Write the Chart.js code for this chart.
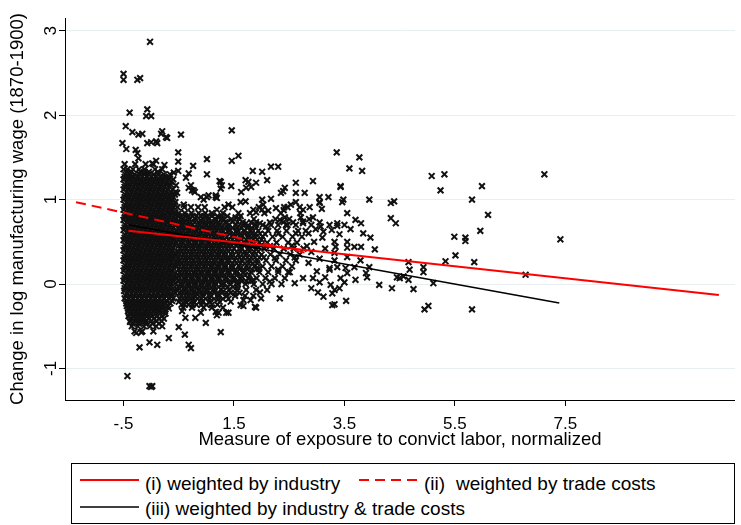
<!DOCTYPE html>
<html>
<head>
<meta charset="utf-8">
<script src="https://cdn.jsdelivr.net/npm/chart.js@4.4.1/dist/chart.umd.min.js"></script>
<style>
  body { margin: 0; background: #fff; }
  #wrap { position: relative; width: 741px; height: 525px; overflow: hidden; }
  #plot { position: absolute; left: 0; top: 0; }
  #key { position: absolute; left: 0; top: 460px; }
  #key text { font-family: "Liberation Sans", Arial, sans-serif; font-size: 19px; fill: #000; }
</style>
</head>
<body>
<div id="wrap">
  <canvas id="plot" width="741" height="460"></canvas>
  <svg id="key" width="741" height="65">
    <rect x="71.5" y="3.5" width="663" height="60" fill="none" stroke="#000" stroke-width="1"/>
    <line x1="80" y1="20" x2="139" y2="20" stroke="#ff0000" stroke-width="2"/>
    <text x="145" y="23" dominant-baseline="central">(i) weighted by industry</text>
    <line x1="359" y1="20" x2="418" y2="20" stroke="#ff0000" stroke-width="2" stroke-dasharray="10 6"/>
    <text x="424" y="23" dominant-baseline="central">(ii)</text>
    <text x="456" y="23" dominant-baseline="central">weighted by trade costs</text>
    <line x1="80" y1="47" x2="139" y2="47" stroke="#000" stroke-width="1.6"/>
    <text x="145" y="48" dominant-baseline="central">(iii) weighted by industry &amp; trade costs</text>
  </svg>
</div>
<script>
"use strict";

// axis texts and ticks
const xTitle = "Measure of exposure to convict labor, normalized";
const yTitle = "Change in log manufacturing wage (1870-1900)";
const xTickVals = [-0.5, 1.5, 3.5, 5.5, 7.5];
const xTickText = ["-.5", "1.5", "3.5", "5.5", "7.5"];
const yTickVals = [-1, 0, 1, 2, 3];
const yTickText = ["-1", "0", "1", "2", "3"];

// fitted lines (endpoints)
const fitIndustryX = [-0.41, 10.28];
const fitIndustryY = [0.63, -0.13];
const fitTradeX = [-1.36, 2.8];
const fitTradeY = [0.97, 0.37];
const fitBothX = [-0.4, 7.39];
const fitBothY = [0.70, -0.225];

// dense block near the minimum exposure, read row by row
const coreRowY = [1.42, 1.36, 1.30, 1.24, 1.18, 1.12, 1.06, 1.00, 0.94, 0.88, 0.82, 0.76, 0.70, 0.64,
  0.58, 0.52, 0.46, 0.40, 0.34, 0.28, 0.22, 0.16, 0.10, 0.04, -0.02, -0.08, -0.14, -0.20, -0.26,
  -0.32, -0.38, -0.44, -0.50, -0.56];
const coreRowX = [
  [-0.48, -0.29, -0.1, 0.04],
  [-0.5, -0.43, -0.33, -0.22, -0.12, 0.07, 0.2],
  [-0.47, -0.38, -0.3, -0.21, -0.12, -0.04, 0.05, 0.13, 0.23, 0.34],
  [-0.5, -0.42, -0.34, -0.26, -0.18, -0.1, -0.02, 0.06, 0.14, 0.22, 0.31, 0.4],
  [-0.47, -0.38, -0.3, -0.22, -0.14, -0.06, 0.02, 0.1, 0.18, 0.26, 0.35],
  [-0.5, -0.42, -0.34, -0.26, -0.18, -0.1, -0.02, 0.06, 0.14, 0.22, 0.3, 0.39],
  [-0.47, -0.38, -0.3, -0.22, -0.14, -0.06, 0.02, 0.1, 0.18, 0.26, 0.34, 0.43],
  [-0.5, -0.42, -0.34, -0.26, -0.18, -0.1, -0.02, 0.06, 0.14, 0.22, 0.3, 0.38],
  [-0.47, -0.39, -0.3, -0.22, -0.14, -0.06, 0.02, 0.1, 0.18, 0.26, 0.34, 0.42],
  [-0.5, -0.42, -0.34, -0.26, -0.18, -0.1, -0.02, 0.06, 0.14, 0.22, 0.3, 0.38],
  [-0.47, -0.38, -0.3, -0.22, -0.14, -0.06, 0.02, 0.1, 0.18, 0.26, 0.35, 0.44],
  [-0.5, -0.42, -0.34, -0.26, -0.18, -0.1, -0.02, 0.06, 0.14, 0.22, 0.3, 0.39],
  [-0.47, -0.38, -0.3, -0.22, -0.14, -0.06, 0.02, 0.1, 0.18, 0.26, 0.34, 0.43],
  [-0.5, -0.42, -0.34, -0.26, -0.18, -0.1, -0.02, 0.06, 0.14, 0.22, 0.3, 0.38],
  [-0.47, -0.38, -0.3, -0.22, -0.14, -0.06, 0.02, 0.1, 0.18, 0.26, 0.34, 0.42],
  [-0.5, -0.42, -0.34, -0.26, -0.18, -0.1, -0.02, 0.06, 0.14, 0.22, 0.3, 0.39],
  [-0.47, -0.38, -0.3, -0.22, -0.14, -0.06, 0.02, 0.1, 0.18, 0.26, 0.34, 0.43],
  [-0.5, -0.42, -0.34, -0.26, -0.18, -0.1, -0.02, 0.06, 0.14, 0.22, 0.3, 0.38],
  [-0.47, -0.38, -0.3, -0.22, -0.14, -0.06, 0.02, 0.1, 0.18, 0.26, 0.34, 0.42],
  [-0.5, -0.42, -0.34, -0.26, -0.18, -0.1, -0.02, 0.06, 0.14, 0.22, 0.3, 0.39],
  [-0.47, -0.38, -0.3, -0.22, -0.14, -0.06, 0.02, 0.1, 0.18, 0.26, 0.34, 0.43],
  [-0.5, -0.42, -0.34, -0.26, -0.18, -0.1, -0.02, 0.06, 0.14, 0.22, 0.3, 0.38],
  [-0.47, -0.38, -0.3, -0.22, -0.14, -0.06, 0.02, 0.1, 0.18, 0.26, 0.34, 0.42],
  [-0.5, -0.42, -0.34, -0.26, -0.18, -0.1, -0.02, 0.06, 0.14, 0.22, 0.3, 0.39],
  [-0.47, -0.38, -0.3, -0.22, -0.14, -0.06, 0.02, 0.1, 0.18, 0.26, 0.35],
  [-0.49, -0.41, -0.33, -0.25, -0.17, -0.09, -0.01, 0.07, 0.15, 0.23, 0.31, 0.41],
  [-0.46, -0.38, -0.3, -0.22, -0.14, -0.06, 0.02, 0.1, 0.18, 0.27, 0.36],
  [-0.45, -0.37, -0.29, -0.21, -0.13, -0.05, 0.03, 0.11, 0.19, 0.28, 0.38],
  [-0.44, -0.36, -0.28, -0.2, -0.12, -0.04, 0.04, 0.12, 0.21, 0.3],
  [-0.42, -0.34, -0.26, -0.18, -0.1, -0.02, 0.06, 0.15, 0.25],
  [-0.41, -0.32, -0.24, -0.16, -0.07, 0.02, 0.11, 0.2],
  [-0.38, -0.29, -0.2, -0.1, 0.0, 0.1, 0.19],
  [-0.35, -0.24, -0.13, -0.02, 0.09, 0.2],
  [-0.3, -0.16, 0.04]
];

// the same block, rows lying between the rows above
const rowE = [-0.48, -0.4, -0.32, -0.24, -0.16, -0.08, 0.0, 0.08, 0.16, 0.24, 0.32, 0.4];
const rowF = [-0.44, -0.36, -0.28, -0.2, -0.12, -0.04, 0.04, 0.12, 0.2, 0.28, 0.36, 0.44];
const coreFillY = [1.33, 1.27, 1.21, 1.15, 1.09, 1.03, 0.97, 0.91, 0.85, 0.79, 0.73, 0.67, 0.61, 0.55,
  0.49, 0.43, 0.37, 0.31, 0.25, 0.19, 0.13, 0.07, 0.01, -0.05, -0.11, -0.17, -0.23, -0.29, -0.35,
  -0.41, -0.47];
const coreFillX = [
  [-0.44, -0.36, -0.2, -0.12, -0.04, 0.12],
  [-0.48, -0.4, -0.32, -0.24, -0.16, -0.08, 0.0, 0.08, 0.16, 0.24, 0.32],
  [-0.44, -0.36, -0.28, -0.2, -0.12, -0.04, 0.04, 0.12, 0.2, 0.28, 0.37],
  [-0.48, -0.4, -0.32, -0.24, -0.16, -0.08, 0.0, 0.08, 0.16, 0.24, 0.33],
  rowF, rowE, rowF, rowE, rowF, rowE, rowF, rowE, rowF, rowE, rowF, rowE,
  rowF, rowE, rowF, rowE, rowF, rowE, rowF, rowE, rowF, rowE,
  [-0.45, -0.37, -0.29, -0.21, -0.13, -0.05, 0.03, 0.11, 0.19, 0.27, 0.35],
  [-0.42, -0.34, -0.26, -0.18, -0.1, -0.02, 0.06, 0.14, 0.22, 0.32],
  [-0.4, -0.32, -0.24, -0.16, -0.08, 0.0, 0.08, 0.16, 0.26],
  [-0.37, -0.28, -0.2, -0.12, -0.04, 0.05, 0.14, 0.23],
  [-0.33, -0.22, -0.1, 0.02, 0.14]
];

// medium density band to the right of the block
const midRowY = [0.91, 0.84, 0.77, 0.70, 0.63, 0.56, 0.49, 0.42, 0.35, 0.28, 0.21, 0.14, 0.07, 0.0,
  -0.07, -0.14, -0.21, -0.28, -0.40];
const midRowX = [
  [0.48, 0.6, 0.72, 0.85, 0.97, 1.33, 1.95, 2.47],
  [0.5, 0.61, 0.73, 0.86, 0.98, 1.1, 1.3, 1.58, 1.79, 2.05, 2.35, 2.7],
  [0.46, 0.57, 0.69, 0.8, 0.93, 1.04, 1.16, 1.28, 1.45, 1.6, 1.86, 2.25, 2.5, 2.86],
  [0.52, 0.64, 0.75, 0.88, 1.0, 1.12, 1.24, 1.41, 1.66, 1.89, 2.02, 2.3, 2.47, 2.62, 2.9],
  [0.47, 0.58, 0.7, 0.82, 0.94, 1.06, 1.18, 1.3, 1.42, 1.55, 1.68, 1.8, 1.94, 2.12, 2.28, 2.45, 2.66, 2.8],
  [0.51, 0.63, 0.76, 0.88, 1.0, 1.13, 1.25, 1.37, 1.5, 1.62, 1.75, 1.88, 2.02, 2.2, 2.38, 2.56, 2.73],
  [0.46, 0.57, 0.69, 0.81, 0.93, 1.05, 1.18, 1.3, 1.43, 1.56, 1.69, 1.82, 1.96, 2.1, 2.27, 2.48, 2.64],
  [0.52, 0.64, 0.76, 0.88, 1.0, 1.12, 1.24, 1.37, 1.5, 1.63, 1.76, 1.9, 2.05, 2.22, 2.4, 2.58, 2.76],
  [0.47, 0.59, 0.71, 0.83, 0.95, 1.07, 1.2, 1.32, 1.45, 1.58, 1.71, 1.85, 2.0, 2.16, 2.33, 2.52, 2.69],
  [0.52, 0.64, 0.76, 0.88, 1.0, 1.13, 1.26, 1.38, 1.51, 1.64, 1.78, 1.92, 2.08, 2.26, 2.44, 2.62],
  [0.47, 0.59, 0.71, 0.83, 0.95, 1.08, 1.2, 1.33, 1.46, 1.59, 1.73, 1.87, 2.02, 2.18, 2.38, 2.55],
  [0.52, 0.64, 0.77, 0.89, 1.02, 1.15, 1.28, 1.41, 1.54, 1.67, 1.81, 1.96, 2.12, 2.3, 2.48],
  [0.47, 0.6, 0.72, 0.85, 0.97, 1.1, 1.23, 1.36, 1.49, 1.62, 1.76, 1.91, 2.07, 2.24, 2.42],
  [0.53, 0.66, 0.78, 0.91, 1.04, 1.17, 1.3, 1.43, 1.57, 1.71, 1.86, 2.02, 2.18, 2.36],
  [0.48, 0.61, 0.74, 0.87, 1.0, 1.13, 1.27, 1.41, 1.56, 1.72, 1.9, 2.1],
  [0.54, 0.67, 0.8, 0.94, 1.08, 1.22, 1.37, 1.52, 1.7, 1.85],
  [0.5, 0.63, 0.77, 0.92, 1.07, 1.24, 1.44],
  [0.58, 0.74, 0.95, 1.1, 1.3],
  [0.62, 0.8]
];

// in-between rows of the band, densest part next to the block
const midFillY = [0.805, 0.735, 0.665, 0.595, 0.525, 0.455, 0.385, 0.315, 0.245, 0.175, 0.105, 0.035,
  -0.035, -0.105, -0.175, -0.245];
const midFillX = [
  [0.5, 0.62, 0.75, 0.9, 1.02, 1.2, 1.38, 1.62],
  [0.5, 0.6, 0.72, 0.86, 0.98, 1.1, 1.22, 1.47, 1.66, 1.9],
  [0.55, 0.67, 0.79, 0.91, 1.03, 1.15, 1.27, 1.4, 1.55, 1.74, 1.9],
  [0.5, 0.62, 0.74, 0.86, 0.98, 1.1, 1.22, 1.34, 1.5, 1.62, 1.76, 1.88, 2.06],
  [0.55, 0.67, 0.79, 0.91, 1.03, 1.15, 1.27, 1.4, 1.55, 1.72, 1.85, 2.0],
  [0.5, 0.62, 0.74, 0.86, 0.98, 1.1, 1.22, 1.34, 1.46, 1.62, 1.76, 1.9, 2.08],
  [0.55, 0.67, 0.79, 0.91, 1.03, 1.15, 1.27, 1.4, 1.55, 1.7, 1.86],
  [0.5, 0.62, 0.74, 0.86, 0.98, 1.1, 1.22, 1.34, 1.46, 1.6, 1.74, 1.88, 2.04],
  [0.55, 0.67, 0.79, 0.91, 1.03, 1.15, 1.27, 1.4, 1.55, 1.7, 1.84],
  [0.5, 0.62, 0.74, 0.86, 0.98, 1.1, 1.22, 1.34, 1.46, 1.6, 1.74, 1.9],
  [0.55, 0.67, 0.79, 0.91, 1.03, 1.15, 1.27, 1.4, 1.55, 1.7],
  [0.5, 0.62, 0.74, 0.86, 0.98, 1.1, 1.22, 1.36, 1.5, 1.64, 1.8],
  [0.55, 0.67, 0.79, 0.91, 1.03, 1.15, 1.3, 1.48],
  [0.52, 0.64, 0.76, 0.88, 1.0, 1.14, 1.28, 1.44, 1.6],
  [0.58, 0.7, 0.84, 0.99, 1.14, 1.3],
  [0.55, 0.68, 0.82, 1.0, 1.2]
];
// a second set on the same rows, shifted sideways
const midFill2X = [
  [0.56, 0.68, 0.82, 0.96, 1.1, 1.28],
  [0.55, 0.66, 0.79, 0.92, 1.04, 1.16, 1.34, 1.56],
  [0.49, 0.61, 0.73, 0.85, 0.97, 1.09, 1.21, 1.33, 1.47, 1.64, 1.82],
  [0.56, 0.68, 0.8, 0.92, 1.04, 1.16, 1.28, 1.42, 1.56, 1.69, 1.82, 1.97],
  [0.49, 0.61, 0.73, 0.85, 0.97, 1.09, 1.21, 1.33, 1.47, 1.63, 1.78, 1.92],
  [0.56, 0.68, 0.8, 0.92, 1.04, 1.16, 1.28, 1.4, 1.54, 1.69, 1.83, 1.99],
  [0.49, 0.61, 0.73, 0.85, 0.97, 1.09, 1.21, 1.33, 1.47, 1.62, 1.78, 1.94],
  [0.56, 0.68, 0.8, 0.92, 1.04, 1.16, 1.28, 1.4, 1.53, 1.67, 1.81, 1.96],
  [0.49, 0.61, 0.73, 0.85, 0.97, 1.09, 1.21, 1.33, 1.47, 1.62, 1.77, 1.92],
  [0.56, 0.68, 0.8, 0.92, 1.04, 1.16, 1.28, 1.4, 1.53, 1.67, 1.82],
  [0.49, 0.61, 0.73, 0.85, 0.97, 1.09, 1.21, 1.33, 1.47, 1.62, 1.78],
  [0.56, 0.68, 0.8, 0.92, 1.04, 1.16, 1.29, 1.43, 1.57, 1.72],
  [0.49, 0.61, 0.73, 0.85, 0.97, 1.09, 1.22, 1.39, 1.56],
  [0.58, 0.7, 0.82, 0.94, 1.07, 1.21, 1.36, 1.52],
  [0.52, 0.64, 0.77, 0.91, 1.06, 1.22, 1.4],
  [0.61, 0.75, 0.91, 1.1]
];

// single in-between points of the band, further right
const fillX = [2.12, 2.4, 2.15, 2.4, 2.75, 2.3, 2.62, 2.15, 2.55, 2.24, 2.6, 1.95, 2.3, 1.84, 2.15, 1.97];
const fillY = [0.87, 0.875, 0.73, 0.735, 0.74, 0.595, 0.6, 0.45, 0.455, 0.31, 0.315, 0.18, 0.17, 0.04, 0.03, -0.1];

// scattered points read one by one
const looseX = [
  -0.02, -0.5, -0.5, -0.25, -0.2, -0.39, -0.07, -0.09, 0.0, -0.46, -0.34, -0.23, -0.16, 0.2, 0.18,
  0.27, 0.29, 0.54, -0.52, -0.45, -0.07, 0.0, 0.09, 0.11, -0.28, -0.25, -0.23, 0.49, 0.49, 0.49,
  0.76, 1.01, 1.01, 0.09, 0.02, 0.24, 0.41, 0.68, 0.74, 0.79, 0.9, 0.95, 1.01, 1.17, 1.19, 1.26,
  1.28, 0.47, 0.63, 0.68, 0.72, 0.77, 1.04, 0.59, 0.45,
  1.46, 1.46, 1.58, 1.84, 2.01, 2.17, 2.3, 3.36,
  1.24, 1.26, 1.45, 1.71, 1.76, 1.72, 1.81, 1.63, 1.9, 2.1, 2.39, 2.42, 2.35, 2.62, 2.62, 2.78,
  2.93, 3.05, 3.05, 3.21, 3.43, 3.46, 1.17, 1.19, 1.4, 1.47, 1.62, 1.71, 1.85, 1.9, 2.01, 2.03,
  2.01, 2.17, 2.26, 2.41, 2.53, 2.62, 2.69, 2.75, 2.87, 3.05, 3.09,
  1.22, 1.31, 1.37, 1.53, 1.54, 1.72, 1.76, 1.81, 1.97, 2.08, 2.17, 2.33, 2.42, 2.44, 2.57, 2.71,
  2.75, 2.93, 3.05, 3.07, 3.23, 3.37,
  2.85, 2.95, 3.1, 2.9, 3.05, 3.15, 2.85, 3.0, 3.15, 2.82, 2.98, 3.12, 2.9, 3.02,
  3.43, 3.23, 2.93, 3.05, 2.75, 2.6, 2.51, 2.33, 3.12, 3.28, 3.32, 3.53, 3.25, 3.32, 3.41, 3.28,
  1.9, 1.99, 1.62, 1.67, 1.8, 1.19, 1.36, 1.26, 0.5, 0.61, 0.68, 0.72, 0.99, 0.9, 1.17, 1.4, 1.67,
  1.88, 0.72, -0.38, -0.27, -0.18, -0.21, -0.03, 0.11, 0.32, 0.56, 1.22,
  -0.43, -0.03, 0.02, 0.0,
  3.77, 3.59, 3.82, 3.43, 3.48, 3.95, 4.34, 4.4, 4.34, 4.43, 3.55, 3.7, 3.8, 3.37, 3.5, 3.61, 3.84,
  3.97, 3.41, 3.55, 3.55, 3.68, 3.8, 4.05, 3.27, 3.32, 3.34, 3.32, 3.55, 3.79, 3.95, 3.89, 3.68,
  3.52, 3.55, 3.32, 3.37, 3.23, 3.7, 4.13, 4.36, 4.5, 4.66, 4.66, 4.68, 4.75, 4.93, 4.93, 5.11,
  4.95, 5.02, 3.5, 4.45, 4.57, 3.91,
  5.08, 5.31, 5.24, 5.99, 7.12, 5.81, 6.1, 5.96, 5.49, 5.69, 5.69, 7.41, 5.33, 5.51, 5.85, 5.81, 6.78
];
const looseY = [
  2.87, 2.49, 2.42, 2.42, 2.44, 2.03, 2.07, 1.99, 1.99, 1.87, 1.8, 1.77, 1.78, 1.81, 1.78,
  1.74, 1.73, 1.77, 1.67, 1.6, 1.67, 1.68, 1.69, 1.67, 1.59, 1.55, 1.49, 1.56, 1.45, 1.34,
  1.4, 1.48, 1.3, 1.46, 1.43, 1.41, 1.32, 1.14, 1.11, 1.09, 1.03, 1.0, 1.03, 1.05, 1.02, 1.21,
  1.17, 1.08, 1.26, 1.31, 1.17, 1.11, 1.05, 0.94, 1.17,
  1.82, 1.46, 1.52, 1.34, 1.33, 1.39, 1.39, 1.56,
  1.22, 1.13, 1.16, 1.23, 1.21, 1.14, 1.15, 1.09, 1.2, 1.23, 1.1, 1.14, 1.08, 1.2, 1.08, 1.08,
  1.22, 1.03, 0.97, 1.03, 1.15, 0.97, 1.03, 0.88, 0.94, 0.91, 0.97, 0.98, 0.88, 0.85, 1.0, 0.94,
  0.88, 1.01, 0.9, 0.91, 0.94, 0.97, 0.91, 0.88, 0.91, 0.96, 0.89,
  0.79, 0.76, 0.73, 0.79, 0.7, 0.72, 0.68, 0.73, 0.72, 0.68, 0.7, 0.76, 0.79, 0.7, 0.73, 0.79,
  0.72, 0.79, 0.73, 0.68, 0.7, 0.72,
  0.6, 0.5, 0.55, 0.38, 0.3, 0.42, 0.25, 0.15, 0.08, 0.45, 0.65, 0.62, -0.05, -0.1,
  0.07, 0.19, 0.07, 0.02, 0.07, 0.01, 0.14, -0.17, -0.15, -0.11, -0.24, -0.2, -0.01, -0.07, -0.05, -0.25,
  -0.28, -0.17, -0.25, -0.19, -0.19, -0.37, -0.34, -0.57, -0.51, -0.6, -0.72, -0.76, -0.46, -0.34, -0.33, -0.34, -0.26,
  -0.27, -0.17, -0.45, -0.58, -0.57, -0.75, -0.69, -0.72, -0.64, -0.32, -0.34,
  -1.09, -1.21, -1.21, -1.22,
  1.5, 1.37, 1.34, 1.16, 1.0, 1.0, 0.96, 0.98, 0.78, 0.72, 0.84, 0.76, 0.72, 0.69, 0.7, 0.65, 0.6,
  0.55, 0.59, 0.5, 0.43, 0.44, 0.44, 0.41, 0.64, 0.5, 0.44, 0.37, 0.32, 0.28, 0.2, 0.13, 0.2,
  0.19, 0.13, 0.28, 0.2, 0.17, 0.05, -0.01, -0.05, 0.07, 0.05, 0.26, 0.17, -0.06, 0.2, 0.14, 0.01,
  -0.3, -0.26, 0.02, 0.08, 0.09, 0.08,
  1.28, 1.3, 1.11, 1.16, 1.3, 1.0, 0.82, 0.63, 0.56, 0.55, 0.51, 0.53, 0.27, 0.34, 0.26, -0.3, 0.11
];

// assemble scatter points
const wagePoints = [];
const addRows = (ys, xs) => ys.forEach((y, i) => xs[i].forEach(x => wagePoints.push({x: x, y: y})));
addRows(coreRowY, coreRowX);
addRows(coreFillY, coreFillX);
addRows(midRowY, midRowX);
addRows(midFillY, midFillX);
addRows(midFillY, midFill2X);
fillX.forEach((x, i) => wagePoints.push({x: x, y: fillY[i]}));
looseX.forEach((x, i) => wagePoints.push({x: x, y: looseY[i]}));

const pair = (xs, ys) => xs.map((x, i) => ({x: x, y: ys[i]}));
const fontFamily = '"Liberation Sans", Arial, sans-serif';

// rotated y tick labels, as in the original
const yLabels = {
  id: 'yLabels',
  afterDraw(chart) {
    const ctx = chart.ctx;
    const ys = chart.scales.y;
    ctx.save();
    ctx.fillStyle = '#000';
    ctx.font = '17px ' + fontFamily;
    ctx.textAlign = 'center';
    ctx.textBaseline = 'middle';
    yTickVals.forEach((v, i) => {
      ctx.save();
      ctx.translate(51, ys.getPixelForValue(v));
      ctx.rotate(-Math.PI / 2);
      ctx.fillText(yTickText[i], 0, 0);
      ctx.restore();
    });
    ctx.restore();
  }
};

new Chart(document.getElementById('plot').getContext('2d'), {
  type: 'scatter',
  data: {
    datasets: [
      {type: 'line', data: pair(fitIndustryX, fitIndustryY), borderColor: '#ff0000', borderWidth: 2, pointRadius: 0, fill: false},
      {type: 'line', data: pair(fitTradeX, fitTradeY), borderColor: '#ff0000', borderWidth: 2, borderDash: [10, 6], pointRadius: 0, fill: false},
      {type: 'line', data: pair(fitBothX, fitBothY), borderColor: '#000', borderWidth: 1.6, pointRadius: 0, fill: false},
      {data: wagePoints, pointStyle: 'crossRot', pointRadius: 4.1, pointBorderWidth: 2,
       pointBorderColor: '#111', pointBackgroundColor: '#111'}
    ]
  },
  options: {
    responsive: false,
    animation: false,
    events: [],
    layout: {padding: {left: 0, right: 0, top: 18, bottom: 9}},
    plugins: {legend: {display: false}, tooltip: {enabled: false}},
    scales: {
      x: {
        type: 'linear', min: -1.56, max: 10.57,
        border: {display: true, color: '#000', width: 1},
        grid: {drawOnChartArea: false, drawTicks: true, tickLength: 6, tickColor: '#000', tickWidth: 1},
        afterBuildTicks: s => { s.ticks = xTickVals.map(v => ({value: v})); },
        ticks: {color: '#000', font: {family: fontFamily, size: 17}, padding: 8, maxRotation: 0,
                autoSkip: false, callback: (v, i) => xTickText[i]},
        title: {display: true, text: xTitle, color: '#000', font: {family: fontFamily, size: 18.5}, padding: 0},
        afterFit: s => { s.height = 51; }
      },
      y: {
        type: 'linear', min: -1.374, max: 3.152,
        border: {display: true, color: '#000', width: 1},
        grid: {color: '#e8eff1', lineWidth: 1, drawTicks: true, tickLength: 6, tickColor: '#000', tickWidth: 1},
        afterBuildTicks: s => { s.ticks = yTickVals.map(v => ({value: v})); },
        ticks: {display: false},
        title: {display: true, text: yTitle, color: '#000', font: {family: fontFamily, size: 18.5}, padding: {top: 7, bottom: 0}},
        afterFit: s => { s.width = 65; }
      }
    }
  },
  plugins: [yLabels]
});
</script>
</body>
</html>
